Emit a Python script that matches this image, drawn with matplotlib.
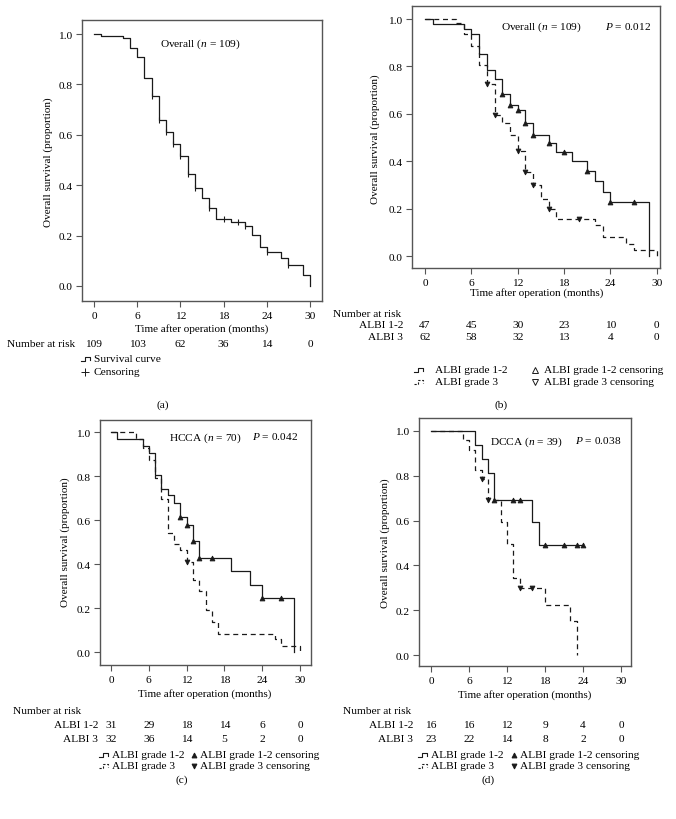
import numpy as np
import matplotlib
matplotlib.use("Agg")
import matplotlib.pyplot as plt
from matplotlib.lines import Line2D
from matplotlib.transforms import blended_transform_factory

plt.rcParams['font.family'] = ['Liberation Serif', 'DejaVu Serif']
plt.rcParams['mathtext.fontset'] = 'custom'
plt.rcParams['mathtext.rm'] = 'Liberation Serif'
plt.rcParams['mathtext.it'] = 'Liberation Serif:italic'

# ---------------- data ----------------
x_ticks = [0, 6, 12, 18, 24, 30]
y_ticks = [0.0, 0.2, 0.4, 0.6, 0.8, 1.0]

# (a) overall
a_times = [1, 4, 5, 6, 7, 8, 9, 10, 11, 12, 13, 14, 15, 16, 17, 19, 21, 22, 23, 24, 26, 27, 29, 30]
a_surv = [0.991, 0.983, 0.945, 0.908, 0.826, 0.753, 0.660, 0.613, 0.564, 0.515, 0.443, 0.387,
          0.349, 0.309, 0.267, 0.254, 0.236, 0.203, 0.155, 0.135, 0.111, 0.082, 0.042, 0.0]
a_cens = [8, 9, 10, 11, 12, 13, 14, 16, 18, 20, 21, 24, 27]
a_risk = [109, 103, 62, 36, 14, 0]

# (b) overall by ALBI
b1_times = [1, 5, 6, 7, 8, 9, 10, 11, 12, 13, 14, 16, 17, 19, 21, 22, 23, 24, 29]
b1_surv = [0.977, 0.958, 0.938, 0.852, 0.787, 0.746, 0.682, 0.639, 0.615, 0.563, 0.511,
           0.479, 0.439, 0.401, 0.361, 0.315, 0.272, 0.227, 0.0]
b1_cens = [10, 11, 12, 13, 14, 16, 18, 21, 24, 27]
b2_times = [4, 5, 6, 7, 8, 9, 10, 11, 12, 13, 14, 15, 16, 17, 22, 23, 26, 27, 30]
b2_surv = [0.985, 0.939, 0.887, 0.808, 0.727, 0.597, 0.562, 0.510, 0.442, 0.355, 0.300,
           0.239, 0.200, 0.155, 0.130, 0.080, 0.052, 0.028, 0.0]
b2_cens = [8, 9, 12, 13, 14, 16, 20]
b1_risk = [47, 45, 30, 23, 10, 0]
b2_risk = [62, 58, 32, 13, 4, 0]

# (c) HCCA
c1_times = [1, 5, 6, 7, 8, 9, 10, 11, 12, 13, 14, 19, 22, 24, 29]
c1_surv = [0.970, 0.937, 0.903, 0.804, 0.743, 0.713, 0.677, 0.612, 0.579, 0.506, 0.429,
           0.367, 0.305, 0.246, 0.0]
c1_cens = [11, 12, 13, 14, 16, 24, 27]
c2_times = [4, 5, 6, 7, 8, 9, 10, 11, 12, 13, 14, 15, 16, 17, 26, 27, 30]
c2_surv = [0.968, 0.929, 0.871, 0.793, 0.695, 0.539, 0.491, 0.462, 0.408, 0.328, 0.276,
           0.192, 0.136, 0.083, 0.057, 0.027, 0.0]
c2_cens = [12]
c1_risk = [31, 29, 18, 14, 6, 0]
c2_risk = [32, 36, 14, 5, 2, 0]

# (d) DCCA
d1_times = [7, 8, 9, 10, 16, 17]
d1_surv = [0.939, 0.876, 0.814, 0.690, 0.592, 0.492]
d1_end = 24
d1_cens = [10, 13, 14, 18, 21, 23, 24]
d2_times = [5, 6, 7, 8, 9, 11, 12, 13, 14, 18, 22, 23]
d2_surv = [0.960, 0.914, 0.827, 0.785, 0.690, 0.593, 0.495, 0.346, 0.297, 0.224, 0.154, 0.0]
d2_cens = [8, 9, 14, 16]
d1_risk = [16, 16, 12, 9, 4, 0]
d2_risk = [23, 22, 14, 8, 2, 0]

# ---------------- figure ----------------
W, H = 676, 820
fig = plt.figure(figsize=(W / 100, H / 100), dpi=100)
FS = 8.2
LINE = '#1a1a1a'
FRAME = '#555555'


def fx(x):
    return x / W


def fy(y):
    return 1 - y / H


def add_ax(l, t, r, b, xlim, ylim):
    ax = fig.add_axes([fx(l), fy(b), (r - l) / W, (b - t) / H])
    ax.set_xlim(*xlim)
    ax.set_ylim(*ylim)
    ax.set_xticks(x_ticks)
    ax.set_yticks(y_ticks)
    ax.set_yticklabels([f"{v:.1f}" for v in y_ticks])
    for s in ax.spines.values():
        s.set_color(FRAME)
        s.set_linewidth(1.0)
    ax.tick_params(direction='out', length=4, width=0.8, color=FRAME,
                   labelsize=FS, pad=3)
    return ax


def km(ax, times, surv, cens, dashed=False, marker='+', end=None, ms=5, mfc=LINE):
    xs = [0] + list(times)
    ys = [1.0] + list(surv)
    if end is not None:
        xs.append(end)
        ys.append(ys[-1])
    ls = (0, (4, 3)) if dashed else '-'
    ax.step(xs, ys, where='post', color=LINE, lw=0.9, ls=ls)
    full = np.array([1.0] + list(surv))
    idx = np.searchsorted(np.array(times), np.array(cens), side='right')
    cy = full[idx]
    if marker == '+':
        ax.plot(cens, cy, ls='none', marker='|', ms=ms, mew=0.8, color=LINE)
    else:
        ax.plot(cens, cy, ls='none', marker=marker, ms=ms, mew=0.6,
                mec=LINE, mfc=mfc)


def risk_row(ax, values, ypix):
    tr = blended_transform_factory(ax.transData, fig.transFigure)
    for xv, v in zip(x_ticks, values):
        ax.text(xv, fy(ypix), str(v), transform=tr, ha='center', va='center', fontsize=FS)


def T(x, y, s, **kw):
    kw.setdefault('fontsize', FS)
    kw.setdefault('va', 'center')
    fig.text(fx(x), fy(y), s, **kw)


def step_icon(x0, y, dashed=False):
    xs = [x0, x0 + 4, x0 + 4, x0 + 9, x0 + 9]
    ys = [y + 2, y + 2, y - 2, y - 2, y + 0.5]
    ls = (0, (2, 1.5)) if dashed else '-'
    fig.add_artist(Line2D([fx(v) for v in xs], [fy(v) for v in ys], color=LINE,
                          lw=0.8, ls=ls, transform=fig.transFigure))


def marker_icon(x, y, m, mfc=LINE, ms=4.5):
    fig.add_artist(Line2D([fx(x)], [fy(y)], ls='none', marker=m, ms=ms, mew=0.7,
                          mec=LINE, mfc=mfc, transform=fig.transFigure))


# ---- panel (a) ----
axa = add_ax(82, 21, 322, 302, (-1.67, 31.67), (-0.06, 1.056))
km(axa, a_times, a_surv, a_cens, marker='+', ms=5)
T(200, 44, 'Overall ($n$ = 109)', ha='center')
T(48, 162, 'Overall survival (proportion)', ha='center', rotation=90, fontsize=8)
T(202, 329, 'Time after operation (months)', ha='center', fontsize=8)
T(7, 345, 'Number at risk', ha='left')
risk_row(axa, a_risk, 345)
step_icon(81, 360)
T(94, 360, 'Survival curve', ha='left')
marker_icon(85, 373, '+', ms=6)
T(94, 373, 'Censoring', ha='left')
T(163, 405, '(a)', ha='center')

# ---- panel (b) ----
axb = add_ax(412, 7, 660, 269, (-1.69, 30.43), (-0.05, 1.055))
km(axb, b1_times, b1_surv, b1_cens, marker='^', ms=3.5)
km(axb, b2_times, b2_surv, b2_cens, dashed=True, marker='v', ms=3.5)
T(541, 27, 'Overall ($n$ = 109)', ha='center')
T(628, 27, '$P$ = 0.012', ha='center')
T(375, 139, 'Overall survival (proportion)', ha='center', rotation=90, fontsize=8)
T(537, 293, 'Time after operation (months)', ha='center', fontsize=8)
T(333, 315, 'Number at risk', ha='left')
T(403, 326, 'ALBI 1-2', ha='right')
T(403, 338, 'ALBI 3', ha='right')
risk_row(axb, b1_risk, 326)
risk_row(axb, b2_risk, 338)
step_icon(414, 371)
T(435, 371, 'ALBI grade 1-2', ha='left')
step_icon(414, 383, dashed=True)
T(435, 383, 'ALBI grade 3', ha='left')
marker_icon(535, 371, '^', mfc='white')
T(544, 371, 'ALBI grade 1-2 censoring', ha='left')
marker_icon(535, 383, 'v', mfc='white')
T(544, 383, 'ALBI grade 3 censoring', ha='left')
T(501, 405, '(b)', ha='center')

# ---- panel (c) ----
axc = add_ax(100, 421, 311, 666, (-1.75, 31.75), (-0.059, 1.055))
km(axc, c1_times, c1_surv, c1_cens, marker='^', ms=3.5)
km(axc, c2_times, c2_surv, c2_cens, dashed=True, marker='v', ms=3.5)
T(205, 438, 'HCCA ($n$ = 70)', ha='center')
T(275, 437, '$P$ = 0.042', ha='center')
T(65, 542, 'Overall survival (proportion)', ha='center', rotation=90, fontsize=8)
T(205, 694, 'Time after operation (months)', ha='center', fontsize=8)
T(13, 712, 'Number at risk', ha='left')
T(98, 726, 'ALBI 1-2', ha='right')
T(98, 740, 'ALBI 3', ha='right')
risk_row(axc, c1_risk, 726)
risk_row(axc, c2_risk, 740)
step_icon(99, 756)
T(112, 756, 'ALBI grade 1-2', ha='left')
step_icon(99, 767, dashed=True)
T(112, 767, 'ALBI grade 3', ha='left')
marker_icon(194, 756, '^', ms=3.5)
T(200, 756, 'ALBI grade 1-2 censoring', ha='left')
marker_icon(194, 767, 'v', ms=3.5)
T(200, 767, 'ALBI grade 3 censoring', ha='left')
T(182, 780, '(c)', ha='center')

# ---- panel (d) ----
axd = add_ax(419, 419, 631, 667, (-1.9, 31.58), (-0.049, 1.058))
km(axd, d1_times, d1_surv, d1_cens, marker='^', end=d1_end, ms=3.5)
km(axd, d2_times, d2_surv, d2_cens, dashed=True, marker='v', ms=3.5)
T(526, 442, 'DCCA ($n$ = 39)', ha='center')
T(598, 441, '$P$ = 0.038', ha='center')
T(385, 543, 'Overall survival (proportion)', ha='center', rotation=90, fontsize=8)
T(525, 695, 'Time after operation (months)', ha='center', fontsize=8)
T(343, 712, 'Number at risk', ha='left')
T(413, 726, 'ALBI 1-2', ha='right')
T(413, 740, 'ALBI 3', ha='right')
risk_row(axd, d1_risk, 726)
risk_row(axd, d2_risk, 740)
step_icon(418, 756)
T(431, 756, 'ALBI grade 1-2', ha='left')
step_icon(418, 767, dashed=True)
T(431, 767, 'ALBI grade 3', ha='left')
marker_icon(514, 756, '^', ms=3.5)
T(520, 756, 'ALBI grade 1-2 censoring', ha='left')
marker_icon(514, 767, 'v', ms=3.5)
T(520, 767, 'ALBI grade 3 censoring', ha='left')
T(488, 780, '(d)', ha='center')

fig.savefig('out.png', dpi=100, facecolor='white')
